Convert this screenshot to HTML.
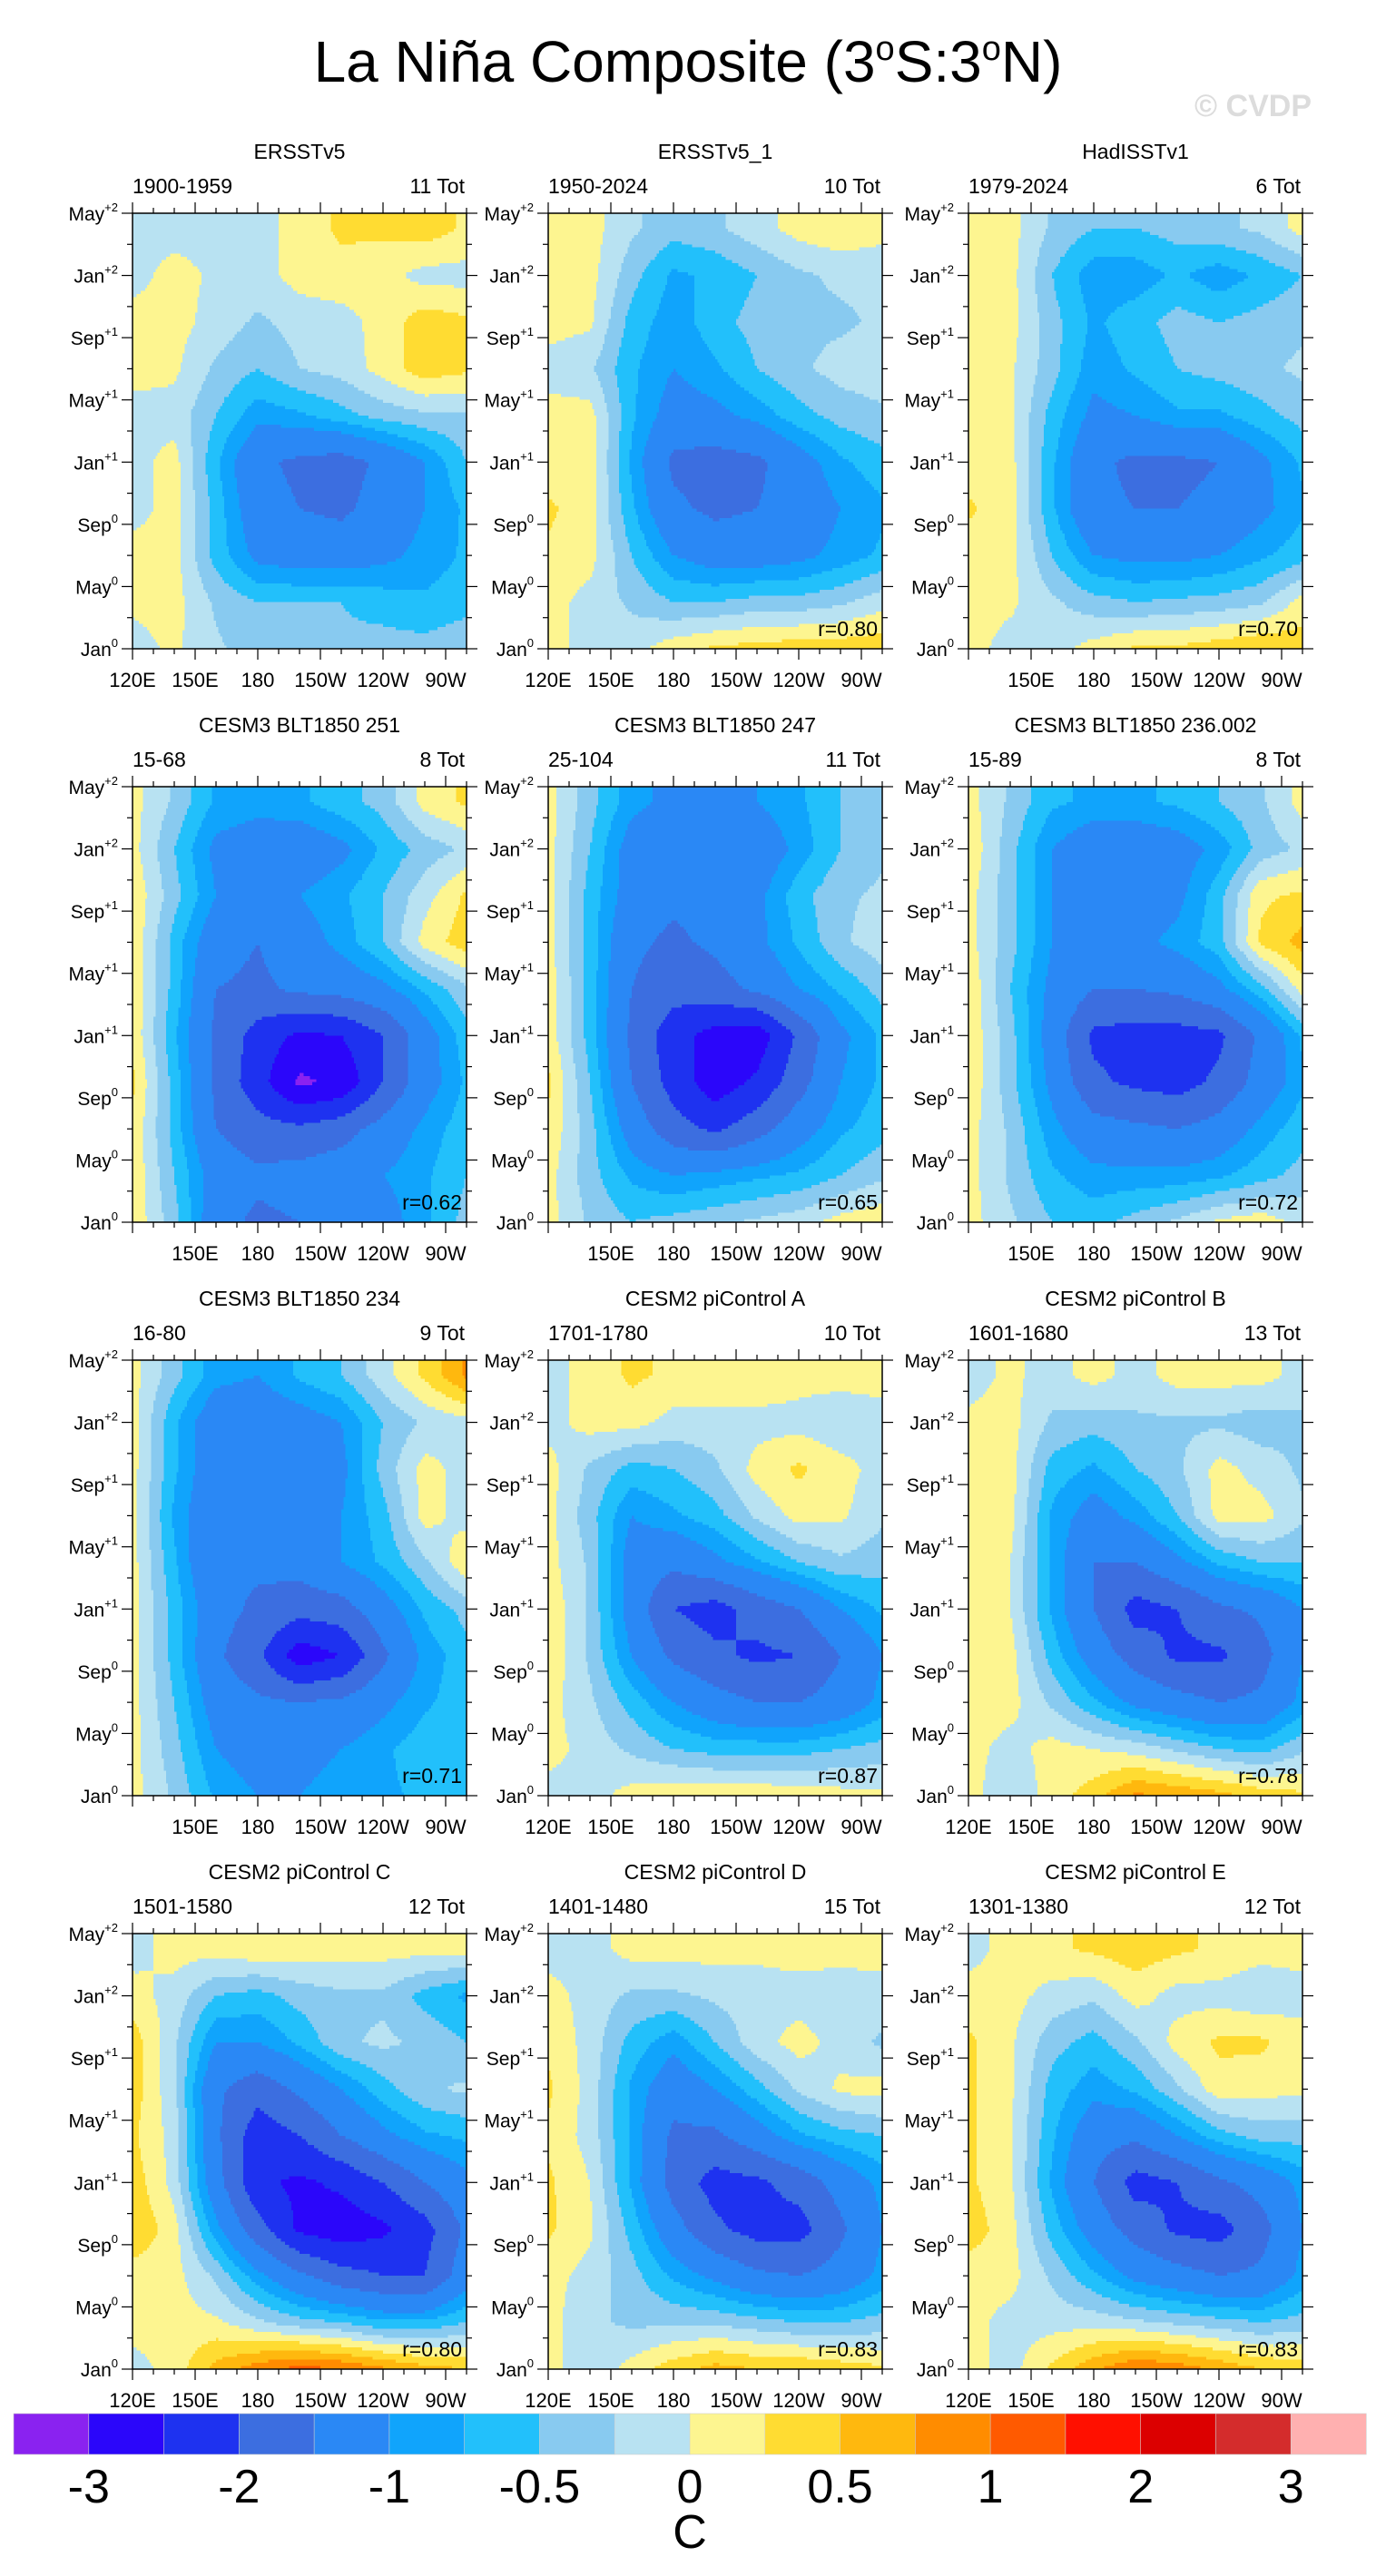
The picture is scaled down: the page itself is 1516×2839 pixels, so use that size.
<!DOCTYPE html>
<html><head><meta charset="utf-8">
<style>
html,body{margin:0;padding:0;background:#fff;}
svg{display:block;font-family:"Liberation Sans",sans-serif;}
</style></head>
<body>
<svg id="fig" xmlns="http://www.w3.org/2000/svg" width="1516" height="2839" viewBox="0 0 1516 2839">
<rect x="0" y="0" width="1516" height="2839" fill="#fff"/>
<text x="758" y="90" text-anchor="middle" font-size="64" fill="#000">La Niña Composite (3<tspan dy="-24" font-size="38">o</tspan><tspan dy="24">S:3</tspan><tspan dy="-24" font-size="38">o</tspan><tspan dy="24">N)</tspan></text>
<text x="1445" y="128" text-anchor="end" font-size="34" font-weight="bold" fill="#dcdcdc">© CVDP</text>
<g id="panels"></g>
<g id="cbar"></g>
</svg>
<script>
// ---- chart data ----
const lons = [120,140,160,180,200,220,240,260,280];
const months = [27,24,21,18,15,12,9,6,3,0];
const levels = [-3,-2.5,-2,-1.5,-1,-0.75,-0.5,-0.25,0,0.25,0.5,0.75,1,1.5,2,2.5,3];
const colorbarLabels = ["-3","-2","-1","-0.5","0","0.5","1","2","3"];
const colorbarLabelLevels = [-3,-2,-1,-0.5,0,0.5,1,2,3];
const yTickLabels = ["Jan","May","Sep","Jan","May","Sep","Jan","May"];
const yTickSups = ["0","0","0","+1","+1","+1","+2","+2"];
const yTickMonths = [0,4,8,12,16,20,24,28];
const xTickLabels = ["120E","150E","180","150W","120W","90W"];
const xTickLons = [120,150,180,210,240,270];
const panelTitles = ["ERSSTv5","ERSSTv5_1","HadISSTv1","CESM3 BLT1850 251","CESM3 BLT1850 247","CESM3 BLT1850 236.002","CESM3 BLT1850 234","CESM2 piControl A","CESM2 piControl B","CESM2 piControl C","CESM2 piControl D","CESM2 piControl E"];
const panelPeriods = ["1900-1959","1950-2024","1979-2024","15-68","25-104","15-89","16-80","1701-1780","1601-1680","1501-1580","1401-1480","1301-1380"];
const panelCounts = ["11 Tot","10 Tot","6 Tot","8 Tot","11 Tot","8 Tot","9 Tot","10 Tot","13 Tot","12 Tot","15 Tot","12 Tot"];
const panelCorr = ["","r=0.80","r=0.70","r=0.62","r=0.65","r=0.72","r=0.71","r=0.87","r=0.78","r=0.80","r=0.83","r=0.83"];
const showFirstLon = [true,true,false,false,false,false,false,true,true,true,true,true];
// rows: months 27 (top) ... 0 (bottom); cols: lons 120E..280E
const gERSST = [
[-0.1,-0.1,-0.1,-0.1,0.1,0.3,0.3,0.4,0.2],
[-0.1,0.1,-0.05,-0.1,0.1,0.15,0.1,-0.1,-0.1],
[0.1,0.1,-0.1,-0.3,-0.15,-0.1,0.1,0.4,0.3],
[0.1,0.05,-0.3,-0.5,-0.25,-0.15,0.1,0.4,0.3],
[-0.1,-0.1,-0.5,-0.9,-0.8,-0.6,-0.4,-0.3,-0.3],
[-0.1,0.1,-0.7,-1.4,-1.6,-1.7,-1.4,-1.0,-0.5],
[-0.1,0.1,-0.6,-1.3,-1.5,-1.6,-1.3,-1.0,-0.7],
[0.1,0.1,-0.6,-1.1,-1.2,-1.2,-1.1,-0.9,-0.7],
[0.05,0.1,-0.3,-0.5,-0.5,-0.5,-0.6,-0.7,-0.6],
[-0.1,0.05,-0.2,-0.4,-0.45,-0.45,-0.4,-0.4,-0.3]];
const gERSST1 = [
[0.1,0.1,-0.2,-0.4,-0.3,-0.1,0.1,0.2,0.1],
[0.1,0.1,-0.4,-0.8,-0.7,-0.5,-0.3,-0.2,-0.2],
[0.1,0.05,-0.6,-0.9,-0.6,-0.4,-0.3,-0.3,-0.2],
[-0.1,-0.2,-0.7,-1.0,-0.8,-0.5,-0.3,-0.15,-0.1],
[0.1,0.1,-0.7,-1.2,-1.1,-0.9,-0.6,-0.4,-0.3],
[0.1,0.15,-0.8,-1.6,-1.7,-1.6,-1.2,-0.8,-0.6],
[0.3,0.1,-0.7,-1.4,-1.6,-1.5,-1.3,-1.0,-0.8],
[0.2,0.1,-0.5,-1.0,-1.2,-1.2,-1.1,-0.9,-0.7],
[0.1,-0.1,-0.3,-0.5,-0.5,-0.4,-0.4,-0.3,-0.1],
[0.1,-0.1,-0.1,0.15,0.3,0.35,0.4,0.4,0.45]];
const gHad = [
[0.1,0.1,-0.3,-0.5,-0.5,-0.4,-0.3,-0.2,0.1],
[0.1,0.1,-0.5,-0.9,-0.9,-0.7,-0.9,-0.7,-0.5],
[0.1,0.1,-0.4,-0.8,-0.6,-0.4,-0.5,-0.4,-0.3],
[0.1,0.05,-0.4,-0.9,-0.7,-0.5,-0.4,-0.3,-0.2],
[0.1,0.05,-0.6,-1.1,-1.0,-0.8,-0.8,-0.6,-0.4],
[0.1,0.1,-0.7,-1.4,-1.6,-1.6,-1.5,-1.1,-0.7],
[0.3,0.1,-0.7,-1.4,-1.5,-1.5,-1.4,-1.1,-0.8],
[0.1,0.1,-0.5,-1.0,-1.1,-1.1,-1.0,-0.8,-0.6],
[0.1,0.05,-0.2,-0.4,-0.5,-0.45,-0.4,-0.3,0.1],
[0.1,-0.1,-0.1,0.1,0.3,0.3,0.4,0.5,0.4]];
const g251 = [
[0.1,-0.3,-0.8,-0.9,-0.8,-0.6,-0.4,0.1,0.3],
[0.1,-0.5,-1.1,-1.2,-1.3,-1.1,-0.7,-0.4,-0.2],
[0.2,-0.4,-1.0,-1.1,-1.0,-0.8,-0.5,-0.1,0.3],
[0.2,-0.6,-1.3,-1.5,-1.2,-0.9,-0.5,0.1,0.4],
[0.2,-0.6,-1.5,-1.6,-1.4,-1.3,-1.1,-0.7,-0.3],
[0.2,-0.7,-1.6,-2.2,-2.6,-2.5,-2.0,-1.2,-0.6],
[0.3,-0.6,-1.6,-2.3,-3.1,-2.9,-2.0,-1.2,-0.7],
[0.2,-0.6,-1.5,-1.8,-1.9,-1.7,-1.3,-0.9,-0.6],
[0.2,-0.5,-1.2,-1.4,-1.3,-1.2,-1.0,-0.8,-0.5],
[0.2,-0.4,-1.3,-1.6,-1.5,-1.5,-1.2,-0.8,-0.4]];
const g247 = [
[0.1,-0.4,-0.9,-1.1,-1.1,-1.0,-0.8,-0.5,-0.3],
[0.1,-0.5,-1.2,-1.3,-1.4,-1.3,-0.9,-0.5,-0.3],
[0.1,-0.6,-1.2,-1.4,-1.3,-1.1,-0.6,-0.3,-0.2],
[0.1,-0.6,-1.4,-1.6,-1.4,-1.1,-0.7,-0.3,-0.1],
[0.15,-0.6,-1.5,-1.8,-1.7,-1.4,-1.0,-0.7,-0.4],
[0.15,-0.6,-1.6,-2.3,-2.7,-2.8,-1.9,-1.1,-0.7],
[0.3,-0.5,-1.5,-2.2,-2.8,-2.4,-1.7,-1.0,-0.7],
[0.2,-0.4,-1.2,-1.8,-2.1,-1.7,-1.2,-0.8,-0.6],
[0.1,-0.4,-0.8,-1.0,-0.9,-0.8,-0.7,-0.5,-0.3],
[0.1,-0.3,-0.5,-0.4,-0.3,-0.2,-0.1,0.1,0.2]];
const g236 = [
[0.1,-0.3,-0.7,-0.8,-0.8,-0.7,-0.5,-0.3,0.1],
[0.2,-0.4,-1.0,-1.3,-1.3,-1.2,-0.9,-0.4,-0.2],
[0.1,-0.4,-1.0,-1.3,-1.3,-1.1,-0.6,0.2,0.3],
[0.1,-0.4,-1.0,-1.2,-1.1,-0.9,-0.6,0.3,0.6],
[0.2,-0.5,-1.1,-1.5,-1.5,-1.4,-1.1,-0.6,0.1],
[0.2,-0.4,-1.2,-2.1,-2.2,-2.2,-2.1,-1.4,-0.7],
[0.2,-0.4,-1.1,-1.9,-2.1,-2.2,-1.9,-1.3,-0.8],
[0.1,-0.3,-0.9,-1.3,-1.4,-1.5,-1.3,-0.9,-0.6],
[0.1,-0.3,-0.7,-0.9,-0.9,-0.9,-0.8,-0.6,-0.4],
[0.1,-0.2,-0.5,-0.6,-0.4,-0.2,0.05,0.15,-0.1]];
const g234 = [
[0.1,-0.4,-0.9,-1.0,-0.7,-0.5,-0.1,0.3,0.8],
[0.1,-0.7,-1.3,-1.3,-1.2,-1.0,-0.5,-0.2,-0.1],
[0.1,-0.7,-1.3,-1.4,-1.4,-1.1,-0.4,0.1,-0.1],
[0.1,-0.8,-1.4,-1.4,-1.3,-1.0,-0.6,0.1,-0.1],
[0.1,-0.7,-1.5,-1.4,-1.3,-1.0,-0.7,-0.3,0.2],
[0.1,-0.6,-1.3,-1.6,-1.8,-1.7,-1.2,-0.7,-0.4],
[0.1,-0.6,-1.4,-1.9,-2.8,-2.5,-1.6,-0.9,-0.6],
[0.1,-0.5,-1.2,-1.4,-1.5,-1.4,-1.1,-0.8,-0.6],
[0.1,-0.4,-1.0,-1.2,-1.1,-1.0,-0.8,-0.6,-0.5],
[0.1,-0.3,-0.8,-1.0,-1.0,-0.9,-0.8,-0.7,-0.6]];
const gPiA = [
[-0.1,0.1,0.3,0.2,0.2,0.2,0.1,0.1,0.1],
[-0.1,0.1,0.1,-0.1,-0.1,-0.1,-0.1,-0.2,-0.1],
[0.1,-0.3,-0.6,-0.5,-0.3,0.1,0.3,0.1,-0.1],
[0.1,-0.4,-1.0,-0.8,-0.6,-0.2,0.1,0.05,-0.2],
[0.1,-0.3,-1.2,-1.4,-1.1,-0.8,-0.5,-0.3,-0.4],
[0.2,-0.3,-1.2,-2.0,-2.2,-1.8,-1.5,-1.0,-0.7],
[0.2,-0.3,-1.0,-1.6,-1.9,-2.1,-2.0,-1.5,-1.0],
[0.1,-0.2,-0.6,-1.0,-1.3,-1.5,-1.5,-1.3,-0.9],
[0.1,-0.1,-0.3,-0.5,-0.6,-0.6,-0.6,-0.5,-0.4],
[-0.1,-0.1,0.1,0.2,0.2,0.2,0.15,0.1,0.05]];
const gPiB = [
[-0.1,0.05,-0.1,0.1,-0.1,0.1,0.1,0.1,-0.1],
[0.05,0.1,-0.3,-0.4,-0.3,-0.3,-0.3,-0.4,-0.3],
[0.2,0.1,-0.6,-0.8,-0.5,-0.3,0.1,-0.1,-0.3],
[0.2,0.1,-0.8,-1.2,-0.9,-0.5,0.1,0.1,-0.2],
[0.2,0.0,-0.8,-1.5,-1.5,-1.1,-0.7,-0.5,-0.5],
[0.2,0.0,-0.8,-1.5,-2.2,-2.0,-1.6,-1.4,-1.0],
[0.2,0.1,-0.6,-1.2,-1.7,-2.1,-2.1,-1.7,-1.0],
[0.15,0.1,-0.3,-0.7,-1.1,-1.3,-1.5,-1.4,-0.9],
[0.1,-0.1,0.1,0.0,-0.1,-0.3,-0.5,-0.6,-0.3],
[0.1,-0.2,0.1,0.4,0.8,0.7,0.6,0.4,0.3]];
const gPiC = [
[-0.1,0.1,0.1,0.2,0.15,0.1,0.1,0.1,0.1],
[0.1,-0.1,-0.5,-0.6,-0.4,-0.3,-0.3,-0.6,-0.8],
[0.4,-0.2,-1.0,-1.0,-0.7,-0.3,-0.2,-0.3,-0.5],
[0.4,-0.2,-1.4,-1.8,-1.4,-1.0,-0.6,-0.3,-0.2],
[0.3,-0.1,-1.4,-2.3,-2.0,-1.5,-1.1,-0.8,-0.7],
[0.4,-0.1,-1.3,-2.4,-2.6,-2.4,-2.0,-1.5,-1.1],
[0.5,0.1,-0.9,-1.8,-2.6,-2.8,-2.6,-2.2,-1.4],
[0.1,0.1,-0.3,-0.9,-1.4,-1.8,-2.0,-2.0,-1.2],
[0.1,0.1,0.05,-0.2,-0.4,-0.5,-0.7,-0.7,-0.5],
[-0.1,0.1,0.6,0.9,1.1,1.0,0.8,0.6,0.5]];
const gPiD = [
[-0.1,-0.1,0.1,0.1,0.1,0.05,0.1,0.1,0.1],
[0.1,-0.1,-0.3,-0.3,-0.2,-0.1,-0.1,-0.15,-0.1],
[0.2,-0.1,-0.6,-0.9,-0.5,-0.1,0.1,-0.1,-0.3],
[0.3,-0.1,-0.8,-1.3,-1.0,-0.6,-0.2,0.05,0.1],
[0.2,-0.1,-0.8,-1.6,-1.6,-1.2,-0.8,-0.6,-0.5],
[0.3,0.0,-0.8,-1.7,-2.2,-2.1,-1.8,-1.3,-0.9],
[0.3,0.05,-0.6,-1.3,-1.9,-2.2,-2.2,-1.6,-1.0],
[0.1,-0.1,-0.4,-0.8,-1.1,-1.4,-1.5,-1.3,-0.9],
[0.1,-0.2,-0.3,-0.3,-0.3,-0.4,-0.5,-0.5,-0.4],
[0.1,-0.2,0.1,0.4,0.6,0.5,0.5,0.4,0.3]];
const gPiE = [
[-0.1,0.1,0.2,0.3,0.4,0.3,0.2,0.1,0.1],
[0.1,0.1,-0.1,-0.2,0.1,-0.1,-0.1,-0.2,-0.1],
[0.3,0.05,-0.4,-0.6,-0.3,0.1,0.3,0.3,0.1],
[0.3,0.05,-0.6,-0.9,-0.7,-0.3,0.15,0.1,0.05],
[0.3,0.05,-0.7,-1.3,-1.4,-1.0,-0.6,-0.4,-0.4],
[0.3,0.05,-0.8,-1.5,-2.2,-2.0,-1.6,-1.3,-0.9],
[0.4,0.1,-0.6,-1.2,-1.7,-2.1,-2.2,-1.7,-1.0],
[0.1,0.1,-0.3,-0.7,-1.1,-1.3,-1.5,-1.4,-0.9],
[0.1,-0.1,-0.1,-0.1,-0.2,-0.3,-0.4,-0.5,-0.4],
[0.1,-0.1,0.3,0.7,1.0,0.9,0.7,0.5,0.4]];
const grids = [gERSST,gERSST1,gHad,g251,g247,g236,g234,gPiA,gPiB,gPiC,gPiD,gPiE];

// ---- styling / layout ----
const colors = ["#8a22f0","#2b06fa","#1e32f0","#3c6ee0","#2a88f5","#10a4fc","#22c0fb","#88caf0","#b8e2f2","#fdf590","#ffdc32","#ffb80e","#ff8c00","#ff5a00","#ff1000","#dc0000","#d42c2c","#ffb0b0"];
const LEFTS = [146,604,1067], TOPS = [235,867,1499,2131], PW = 368, PH = 480;
const LON0 = 120, LON1 = 280, T0 = 0, T1 = 28;
const NS = "http://www.w3.org/2000/svg";
function mk(tag, attrs, parent){const e=document.createElementNS(NS,tag);for(const k in attrs)e.setAttribute(k,attrs[k]);if(parent)parent.appendChild(e);return e;}
function colorFor(v){let i=0;while(i<levels.length&&v>=levels[i])i++;return colors[i];}
function sample(g, lon, m){
  let fx=(lon-lons[0])/(lons[1]-lons[0]); fx=Math.max(0,Math.min(lons.length-1,fx));
  let fy=(months[0]-m)/(months[0]-months[1]); fy=Math.max(0,Math.min(months.length-1,fy));
  const i=Math.min(Math.floor(fx),lons.length-2), j=Math.min(Math.floor(fy),months.length-2);
  const a=fx-i, b=fy-j;
  return (1-a)*(1-b)*g[j][i]+a*(1-b)*g[j][i+1]+(1-a)*b*g[j+1][i]+a*b*g[j+1][i+1];
}
const panelsG = document.getElementById('panels');
grids.forEach((g, p) => {
  const L = LEFTS[p%3], T = TOPS[Math.floor(p/3)];
  const xs = lon => L + (lon-LON0)/(LON1-LON0)*PW;
  const ys = m => T + (T1-m)/(T1-T0)*PH;
  const pg = mk('g', {}, panelsG);
  
  
  const field = mk('g', {'shape-rendering':'crispEdges'}, pg);
  
  
  const NX = 160, NT = 140;
  const dl = (LON1-LON0)/NX, dt = (T1-T0)/NT;
  for (let r=0; r<NT; r++){
    const m = T1 - (r+0.5)*dt;
    let runStart = 0, runCol = colorFor(sample(g, LON0+0.5*dl, m));
    for (let c=1; c<=NX; c++){
      const col = c<NX ? colorFor(sample(g, LON0+(c+0.5)*dl, m)) : null;
      if (col !== runCol){
        const x0 = xs(LON0+runStart*dl), x1 = xs(LON0+c*dl);
        const y0 = ys(T1-r*dt), y1 = ys(T1-(r+1)*dt);
        const rc = mk('rect', {x:x0.toFixed(2), y:y0.toFixed(2), width:(x1-x0+0.6).toFixed(2), height:(y1-y0+0.6).toFixed(2), fill:runCol}, field);
        
        
        runStart = c; runCol = col;
      }
    }
  }
  const frame = mk('rect', {x:L, y:T, width:PW, height:PH, fill:'none', stroke:'#000', 'stroke-width':1.5}, pg);
  
  
  for (let lon=120; lon<=280; lon+=10){
    const major = (lon-120)%30===0, len = major?12:6, x = xs(lon);
    const t1 = mk('line', {x1:x, y1:T+PH, x2:x, y2:T+PH+len, stroke:'#000','stroke-width':1.2}, pg);
    
    
    const t2 = mk('line', {x1:x, y1:T, x2:x, y2:T-len, stroke:'#000','stroke-width':1.2}, pg);
    
    
  }
  xTickLabels.forEach((lab, k) => {
    if (k===0 && !showFirstLon[p]) return;
    const tx = mk('text', {x:xs(xTickLons[k]), y:T+PH+42, 'text-anchor':'middle','font-size':22}, pg);
    tx.textContent = lab;
    
    
  });
  for (let m=0; m<=28; m+=2){
    const major = m%4===0, len = major?12:6, y = ys(m);
    const a = mk('line', {x1:L, y1:y, x2:L-len, y2:y, stroke:'#000','stroke-width':1.2}, pg);
    
    
    const b = mk('line', {x1:L+PW, y1:y, x2:L+PW+len, y2:y, stroke:'#000','stroke-width':1.2}, pg);
    
    
  }
  yTickLabels.forEach((lab, k) => {
    const ty = mk('text', {x:L-16, y:ys(yTickMonths[k])+8, 'text-anchor':'end','font-size':21}, pg);
    const s1 = mk('tspan', {}, ty); s1.textContent = lab;
    const s2 = mk('tspan', {dy:-10,'font-size':13}, ty); s2.textContent = yTickSups[k];
    
    
  });
  const tt = mk('text', {x:L+PW/2, y:T-60, 'text-anchor':'middle','font-size':23}, pg);
  tt.textContent = panelTitles[p];
  
  
  const per = mk('text', {x:L, y:T-22, 'text-anchor':'start','font-size':23}, pg);
  per.textContent = panelPeriods[p];
  
  
  const cnt = mk('text', {x:L+PW-2, y:T-22, 'text-anchor':'end','font-size':23}, pg);
  cnt.textContent = panelCounts[p];
  
  
  if (panelCorr[p]){
    const rl = mk('text', {x:L+PW-5, y:T+PH-14, 'text-anchor':'end','font-size':23}, pg);
    rl.textContent = panelCorr[p];
    
    
  }
});
const cb = document.getElementById('cbar');
const CBL = 15, CBR = 1505, CBT = 2660, CBH = 45, bw = (CBR-CBL)/colors.length;
colors.forEach((c, k) => {
  const r = mk('rect', {x:(CBL+k*bw).toFixed(2), y:CBT, width:(bw+0.3).toFixed(2), height:CBH, fill:c, stroke:'#cfcfcf','stroke-width':0.6}, cb);
  
  
});
colorbarLabels.forEach((lab, k) => {
  const idx = levels.indexOf(colorbarLabelLevels[k]) + 1;
  const t = mk('text', {x:CBL+idx*bw, y:2758, 'text-anchor':'middle','font-size':52}, cb);
  t.textContent = lab;
  
  
});
const unit = mk('text', {x:760, y:2808, 'text-anchor':'middle','font-size':52}, cb);
unit.textContent = 'C';


</script>
</body></html>
